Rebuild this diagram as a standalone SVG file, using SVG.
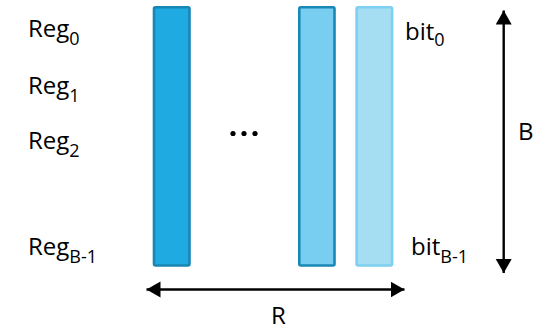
<svg xmlns="http://www.w3.org/2000/svg" width="554" height="332" viewBox="0 0 554 332">
<style>
text{font-family:"Open Sans","Liberation Sans",Arial,sans-serif;font-size:24px;fill:#000}
.sub{font-size:18px}
.bar{stroke-width:2.6}
.conn{stroke:#000;stroke-width:2.4;fill:none}
</style>
<defs>
<marker id="ah" markerUnits="userSpaceOnUse" markerWidth="16" markerHeight="18" refX="14" refY="8" orient="auto">
<path d="M0,0 L14,8 L0,16 Z" fill="#000"/>
</marker>
</defs>
<g id="bar-1"><rect class="bar" x="154" y="7.3" width="35.5" height="258.2" rx="1.5" fill="#1FAAE2" stroke="#1A86B3"/></g>
<g id="bar-2"><rect class="bar" x="299.3" y="7.3" width="35.2" height="258.2" rx="1.5" fill="#78CEF0" stroke="#1A88B5"/></g>
<g id="bar-3"><rect class="bar" x="356.6" y="7.3" width="35.5" height="258.2" rx="1.5" fill="#A5DEF3" stroke="#7DD0F0"/></g>
<g id="ellipsis" fill="#000"><circle cx="233" cy="133.5" r="2.6"/><circle cx="244" cy="133.5" r="2.6"/><circle cx="255" cy="133.5" r="2.6"/></g>
<g id="labels">
<text x="28" y="37">Reg<tspan class="sub" dy="8">0</tspan></text>
<text x="28" y="94">Reg<tspan class="sub" dy="8">1</tspan></text>
<text x="28" y="149">Reg<tspan class="sub" dy="8">2</tspan></text>
<text x="28" y="255">Reg<tspan class="sub" dy="8">B-1</tspan></text>
<text x="405" y="40">bit<tspan class="sub" dy="6">0</tspan></text>
<text x="411" y="255">bit<tspan class="sub" dy="8">B-1</tspan></text>
<text x="518" y="140">B</text>
<text x="271" y="324">R</text>
</g>
<g id="connectors">
<line class="conn" x1="503.7" y1="135" x2="503.7" y2="10.5" marker-end="url(#ah)"/>
<line class="conn" x1="503.7" y1="135" x2="503.7" y2="273" marker-end="url(#ah)"/>
<line class="conn" x1="275" y1="289.5" x2="146.5" y2="289.5" marker-end="url(#ah)"/>
<line class="conn" x1="275" y1="289.5" x2="404.5" y2="289.5" marker-end="url(#ah)"/>
</g>
</svg>
